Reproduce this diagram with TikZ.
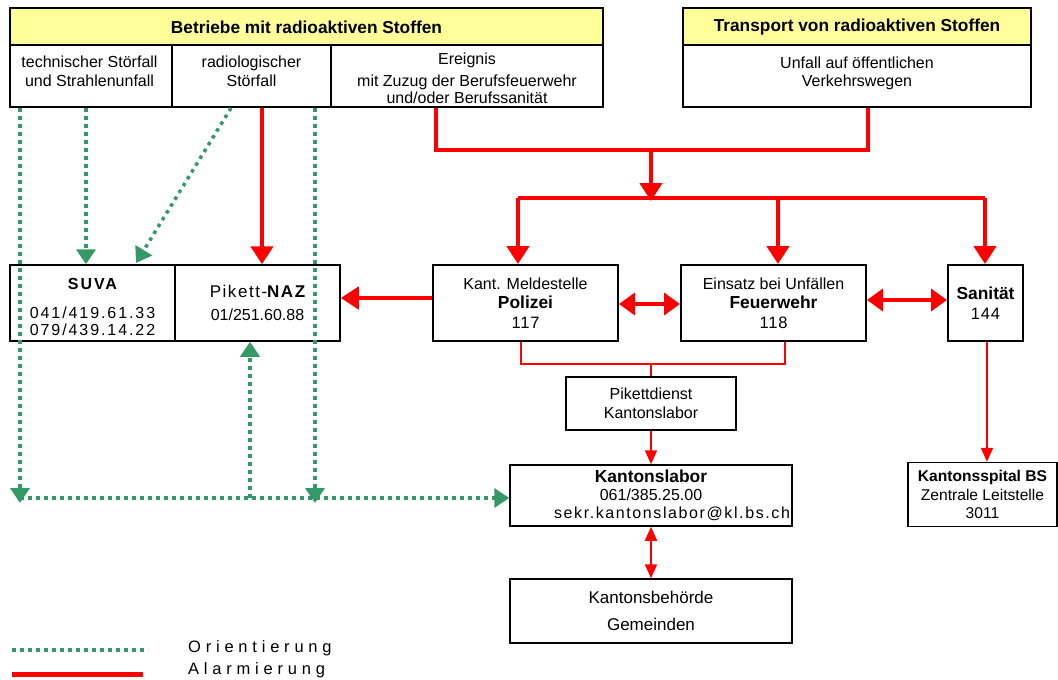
\documentclass[tikz,border=0pt]{standalone}
\usepackage{fontspec}
\setmainfont{Liberation Sans}
\newfontfamily\spc[LetterSpace=9]{Liberation Sans}
\newfontfamily\spcb[LetterSpace=12]{Liberation Sans}
\newfontfamily\spcn[LetterSpace=5]{Liberation Sans}
\newfontfamily\spce[LetterSpace=10]{Liberation Sans}
\newfontfamily\lgd[LetterSpace=29]{Liberation Sans}
\usetikzlibrary{arrows.meta}
\definecolor{grn}{RGB}{51,153,102}
\definecolor{ylw}{RGB}{255,255,153}
\definecolor{rd}{RGB}{255,0,0}
\newcommand{\bigb}[1]{{\fontsize{17.4}{19.5}\selectfont\bfseries #1}}
\newcommand{\bign}[1]{{\fontsize{16.5}{19.5}\selectfont\spcn #1}}
\tikzset{
  box/.style={draw=black, line width=2pt, fill=white, inner sep=0pt, align=center, font=\fontsize{16}{19.5}\selectfont},
  hdr/.style={box, fill=ylw},
  txt/.style={inner sep=0pt, align=center, font=\fontsize{16}{18.5}\selectfont},
  gdot/.style={draw=grn, line width=4pt, dash pattern=on 4pt off 4pt},
  gtip/.style={-{Triangle[width=19pt,length=15pt]}, shorten >=0pt},
  rthick/.style={draw=rd, line width=4.5pt},
  rtip/.style={-{Triangle[width=22pt,length=18pt]}},
  rdbl/.style={{Triangle[width=22pt,length=16pt]}-{Triangle[width=22pt,length=16pt]}},
  rthin/.style={draw=rd, line width=2pt},
  ttip/.style={-{Triangle[width=12pt,length=14pt]}},
  tdbl/.style={{Triangle[width=12pt,length=14pt]}-{Triangle[width=12pt,length=14pt]}},
}
\begin{document}
\begin{tikzpicture}[x=1pt,y=-1pt]
\useasboundingbox (0,0) rectangle (1058,680);
% top boxes
\node[hdr, minimum width=593pt, minimum height=37pt] (bh) at (306.5,26.5) {};
\node[txt, font=\fontsize{17.3}{20}\selectfont\bfseries] (bht) at (306.5,27.5) {Betriebe mit radioaktiven Stoffen};
\node[box, minimum width=162pt, minimum height=62pt] (tech) at (91,76) {};
\node[box, minimum width=159pt, minimum height=62pt] (radio) at (251.5,76) {};
\node[box, minimum width=272pt, minimum height=62pt] (ereig) at (467,76) {};
\node[txt] (techt) at (89.5,71.5) {technischer Störfall\\und Strahlenunfall};
\node[txt] (radiot) at (251.5,71.5) {radiologischer\\Störfall};
\node[txt] (ereigt) at (467,78) {Ereignis\\[4pt]mit Zuzug der Berufsfeuerwehr\\[-2pt]und/oder Berufssanität};
\node[hdr, minimum width=348pt, minimum height=37pt] (th) at (857,26.5) {};
\node[txt, font=\fontsize{17.3}{20}\selectfont\bfseries] (tht) at (857,27.5) {Transport von radioaktiven Stoffen};
\node[box, minimum width=348pt, minimum height=62pt] (trans) at (857,76) {};
\node[txt] (transt) at (857,73.5) {Unfall auf öffentlichen\\Verkehrswegen};
% middle row
\node[box, line width=1.5pt, minimum width=165pt, minimum height=76pt] (suva) at (92.5,303) {\rule{0pt}{20pt}{\spcb\bfseries SUVA}\\[9pt]{\spcb 041/419.61.33}\\[-2pt]{\spcb 079/439.14.22}};
\node[box, line width=1.5pt, minimum width=165pt, minimum height=76pt] (naz) at (257.5,303) {{\fontsize{17}{20}\selectfont\spc Pikett-\bfseries NAZ}\\[4pt]{\fontsize{16}{19}\selectfont 01/251.60.88}};
\node[box, minimum width=185pt, minimum height=76pt] (pol) at (525.5,303) {Kant. Meldestelle\\\bigb{Polizei}\\\bign{117}};
\node[box, minimum width=185pt, minimum height=76pt] (feu) at (773.5,303) {Einsatz bei Unfällen\\\bigb{Feuerwehr}\\\bign{118}};
\node[box, minimum width=75pt, minimum height=76pt] (san) at (985.5,303) {\bigb{Sanität}\\\bign{144}};
% lower
\node[box, line width=1.5pt, minimum width=170pt, minimum height=53pt] (pik) at (651,403.5) {Pikettdienst\\[-1pt]Kantonslabor};
\node[box, line width=1.5pt, minimum width=282pt, minimum height=61pt] (kl) at (651,495.5) {\bigb{Kantonslabor}\\[-2pt]061/385.25.00\\[-1pt]\hspace*{42pt}{\spce sekr.kantonslabor@kl.bs.ch}};
\node[box, line width=1.5pt, minimum width=282pt, minimum height=64pt, font=\fontsize{17}{19}\selectfont] (kb) at (651,611) {Kantonsbehörde\\[8pt]Gemeinden};
\node[box, line width=1.5pt, minimum width=149pt, minimum height=64pt, font=\fontsize{15.6}{18.5}\selectfont] (ksp) at (982.5,494.5) {\textbf{Kantonsspital BS}\\Zentrale Leitstelle\\3011};
% coordinates
\coordinate (t1) at (651,150);
\coordinate (t2) at (651,198);
\coordinate (b1) at (518,198);
\coordinate (b2) at (778,198);
\coordinate (b3) at (985,198);
\coordinate (m) at (651,364);
\coordinate (gl) at (20,498);
\coordinate (gm) at (250,498);
\coordinate (gr) at (315,498);
% red thick
\draw[rthick] (ereig.south -| 436,0) |- (t1) -| (trans.south -| 868,0);
\draw[rthick, rtip] (t1) -- ([yshift=-3pt]t2);
\draw[rthick] (b1) -- (b3);
\draw[rthick, rtip] (b1) -- (b1 |- pol.north);
\draw[rthick, rtip] (b2) -- (b2 |- feu.north);
\draw[rthick, rtip] (b3) -- (b3 |- san.north);
\draw[rthick, rtip] (radio.south -| 262,0) -- (naz.north -| 262,0);
\draw[rthick, rtip] (pol.west |- 0,298) -- (naz.east |- 0,298);
\draw[rthick, rdbl] (pol.east |- 0,304) -- (feu.west |- 0,304);
\draw[rthick, rdbl] (feu.east |- 0,300) -- (san.west |- 0,300);
% red thin
\draw[rthin] (pol.south -| 521,0) |- (m) -| (feu.south -| 785,0);
\draw[rthin] (m) -- (pik.north);
\draw[rthin, ttip] (pik.south) -- (kl.north);
\draw[rthin, tdbl] (kl.south) -- (kb.north);
\draw[rthin, ttip] (san.south -| 987,0) -- (ksp.north -| 987,0);
% green
\draw[gdot, gtip] (tech.south -| gl) -- ([yshift=-5pt]gl);
\draw[gdot, gtip] (gl) -- (kl.west |- gl);
\draw[gdot, gtip] (gm) -- (naz.south -| gm);
\draw[gdot, gtip] (radio.south -| gr) -- ([yshift=-5pt]gr);
\draw[gdot, gtip] (tech.south -| 86,0) -- (suva.north -| 86,0);
\draw[draw=grn, line width=3.5pt, dash pattern=on 3.5pt off 4.5pt, gtip] (radio.south -| 231,0) -- (136,263);
% legend
\coordinate (lg1) at (12,650);
\coordinate (lg2) at (148,650);
\coordinate (lr1) at (12,674);
\coordinate (lr2) at (143,674);
\draw[gdot] (lg1) -- (lg2);
\draw[rd, line width=5pt] (lr1) -- (lr2);
\node[anchor=west, inner sep=0pt, font=\fontsize{16.5}{18}\selectfont\lgd] (lo) at (188,648) {Orientierung};
\node[anchor=west, inner sep=0pt, font=\fontsize{16.5}{18}\selectfont\lgd] (la) at (188,670) {Alarmierung};
\end{tikzpicture}
\end{document}
